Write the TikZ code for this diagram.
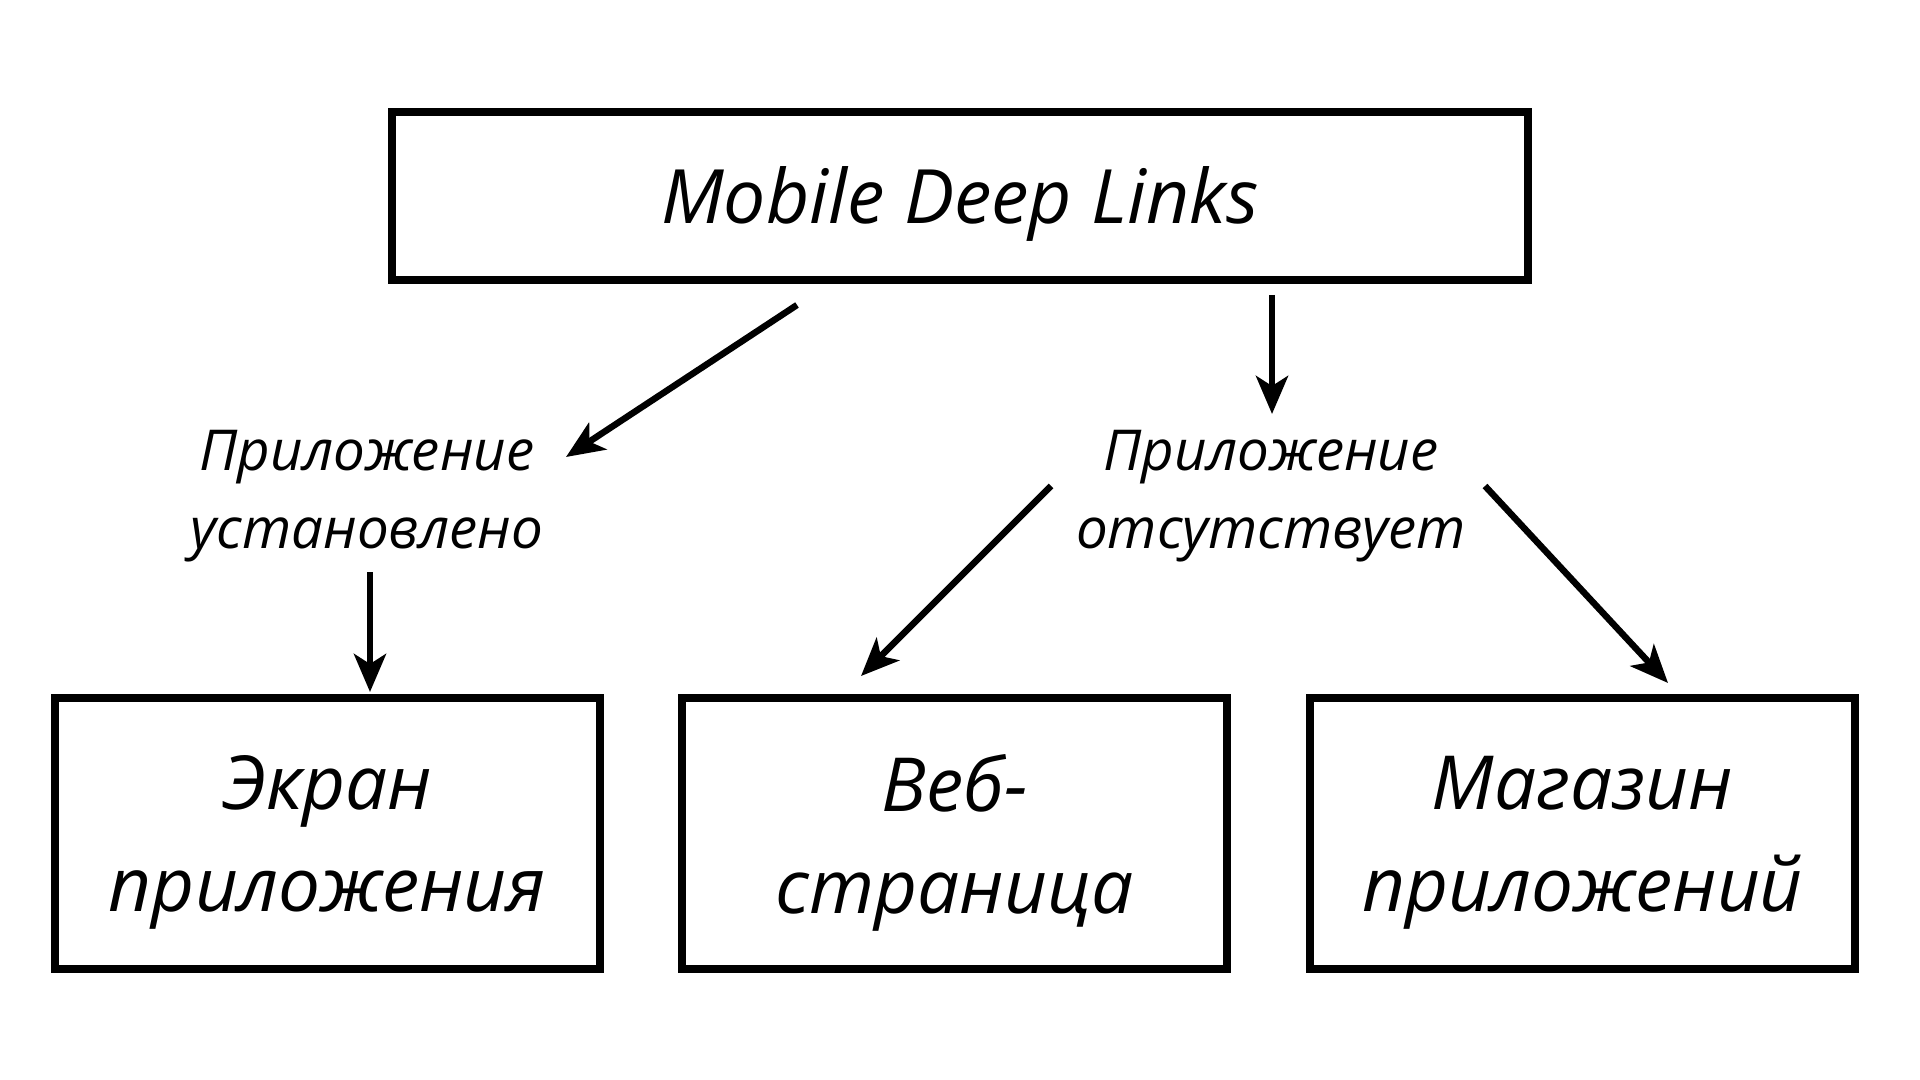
\documentclass[tikz,border=0pt]{standalone}
\usepackage{fontspec}
\setmainfont{Open Sans}
\usetikzlibrary{arrows.meta}
\tikzset{
  box/.style={draw=black, line width=4pt, minimum width=272.5pt, minimum height=135.5pt,
    inner sep=0pt},
  boxtext/.style={inner sep=0pt, align=center, font=\itshape\fontsize{37.3}{51}\selectfont},
  lbl/.style={inner sep=0pt, align=center, font=\itshape\fontsize{28.2}{39.3}\selectfont},
  arr/.style={line width=3.25pt, -{Stealth[length=19pt,width=16pt,inset=5pt]}}
}
\begin{document}
\begin{tikzpicture}[x=0.5pt,y=-0.5pt]
\useasboundingbox[fill=white] (0,0) rectangle (1920,1080);
\node[box, minimum width=568pt, minimum height=84pt] (top) at (960,196) {};
\node[boxtext, font=\itshape\fontsize{37.5}{51}\selectfont] (topt) at ([yshift=-4pt]top.center) {Mobile Deep Links};
\node[box] (screen) at (327.5,833.5) {};
\node[boxtext] (screent) at ([yshift=-4.5pt]screen.center) {Экран\\приложения};
\node[box] (web) at (954.5,833.5) {};
\node[boxtext] (webt) at ([yshift=-4.5pt]web.center) {Веб-\\страница};
\node[box] (store) at (1582.5,833.5) {};
\node[boxtext] (storet) at ([yshift=-4.5pt]store.center) {Магазин\\приложений};
\node[lbl] (inst) at (367,496) {Приложение\\установлено};
\node[lbl] (abs) at (1271,496) {Приложение\\отсутствует};
\coordinate (a1s) at (797,305);
\coordinate (a1e) at (566,457);
\coordinate (a2s) at (1272,295);
\coordinate (a2e) at (1272,414);
\coordinate (a3s) at (370,572);
\coordinate (a3e) at (370,692);
\coordinate (a4s) at (1051,486);
\coordinate (a4e) at (861,676);
\coordinate (a5s) at (1485,486);
\coordinate (a5e) at (1668,683);
\draw[arr] (a1s) -- (a1e);
\draw[arr] (a2s) -- (a2e);
\draw[arr] (a3s) -- (a3e);
\draw[arr] (a4s) -- (a4e);
\draw[arr] (a5s) -- (a5e);
\end{tikzpicture}
\end{document}
